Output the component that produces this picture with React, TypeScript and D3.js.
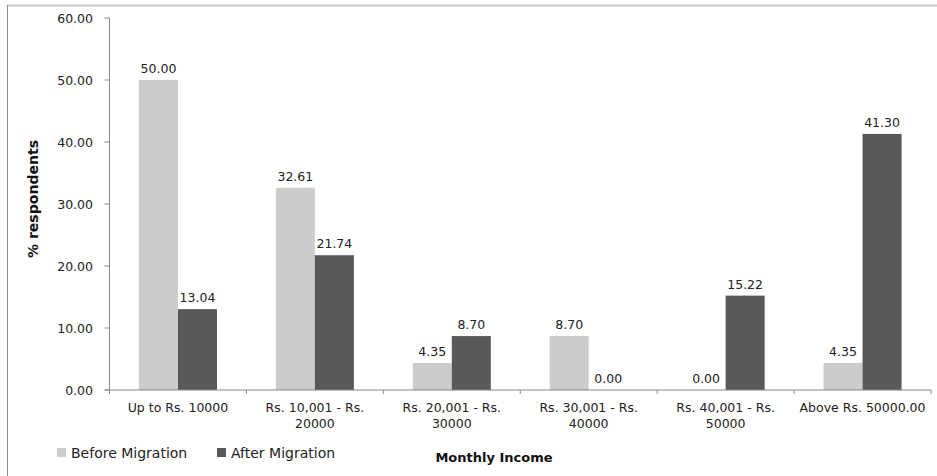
import React from "react";
import * as d3 from "d3";

const categories: string[][] = [
  ["Up to Rs. 10000"],
  ["Rs. 10,001 - Rs.", "20000"],
  ["Rs. 20,001 - Rs.", "30000"],
  ["Rs. 30,001 - Rs.", "40000"],
  ["Rs. 40,001 - Rs.", "50000"],
  ["Above Rs. 50000.00"],
];
const seriesNames = ["Before Migration", "After Migration"];
const beforeMigration = [50.0, 32.61, 4.35, 8.7, 0.0, 4.35];
const afterMigration = [13.04, 21.74, 8.7, 0.0, 15.22, 41.3];
const yTicks = [0, 10, 20, 30, 40, 50, 60];
const colors = ["#cccccc", "#595959"];

export default function App() {
  const W = 937;
  const H = 476;
  const x0 = 109.5;
  const x1 = 931;
  const yTop = 18;
  const yBot = 390;
  const font = "Verdana, 'DejaVu Sans', sans-serif";

  const x = d3
    .scaleBand<number>()
    .domain(d3.range(categories.length))
    .range([x0, x1])
    .paddingInner(0)
    .paddingOuter(0);
  const y = d3.scaleLinear().domain([0, 60]).range([yBot, yTop]);
  const bw = x.bandwidth() * 0.285;
  const series = [beforeMigration, afterMigration];

  return (
    <svg
      width={W}
      height={H}
      style={{ position: "absolute", left: 0, top: 0, background: "#fff" }}
    >
      <rect x={0} y={0} width={W} height={H} fill="#fff" />
      {/* outer frame */}
      <line x1={7} y1={5.5} x2={W} y2={5.5} stroke="#c8c8c8" strokeWidth={2} />
      <line x1={7.5} y1={5} x2={7.5} y2={H} stroke="#8c8c8c" strokeWidth={1} />

      {/* bars */}
      {series.map((vals, s) =>
        vals.map((v, i) => {
          const cx = (x(i) as number) + x.bandwidth() / 2;
          const bx = cx - bw + s * bw;
          return (
            <g key={`${s}-${i}`}>
              <rect
                x={bx}
                y={y(v)}
                width={bw}
                height={yBot - y(v)}
                fill={colors[s]}
              />
              <text
                x={bx + bw / 2}
                y={y(v) - 7}
                textAnchor="middle"
                fontFamily={font}
                fontSize={12.5}
                fill="#222"
              >
                {v.toFixed(2)}
              </text>
            </g>
          );
        })
      )}

      {/* y axis */}
      <line x1={x0} y1={yTop} x2={x0} y2={yBot} stroke="#868686" />
      {yTicks.map((t) => (
        <g key={t}>
          <line x1={x0 - 5} y1={y(t)} x2={x0} y2={y(t)} stroke="#868686" />
          <text
            x={93}
            y={y(t) + 4.5}
            textAnchor="end"
            fontFamily={font}
            fontSize={12.5}
            fill="#222"
          >
            {t.toFixed(2)}
          </text>
        </g>
      ))}

      {/* x axis */}
      <line x1={x0 - 5} y1={yBot} x2={x1} y2={yBot} stroke="#868686" />
      {d3.range(categories.length + 1).map((i) => {
        const tx = i < categories.length ? (x(i) as number) : x1;
        return (
          <line key={i} x1={tx} y1={yBot} x2={tx} y2={yBot + 4} stroke="#868686" />
        );
      })}
      {categories.map((lines, i) => (
        <text
          key={i}
          x={(x(i) as number) + x.bandwidth() / 2}
          y={412}
          textAnchor="middle"
          fontFamily={font}
          fontSize={12.5}
          fill="#222"
        >
          {lines.map((l, j) => (
            <tspan key={j} x={(x(i) as number) + x.bandwidth() / 2} dy={j === 0 ? 0 : 15.5}>
              {l}
            </tspan>
          ))}
        </text>
      ))}

      {/* axis titles */}
      <text
        transform="translate(38,199) rotate(-90)"
        textAnchor="middle"
        fontFamily="'DejaVu Sans Condensed', 'Liberation Sans Narrow', 'DejaVu Sans', sans-serif"
        fontWeight="bold"
        fontSize={14}
        fill="#111"
        textLength={118}
        lengthAdjust="spacingAndGlyphs"
      >
        % respondents
      </text>
      <text
        x={494}
        y={462}
        textAnchor="middle"
        fontFamily={font}
        fontWeight="bold"
        fontSize={13}
        fill="#111"
      >
        Monthly Income
      </text>

      {/* legend */}
      {seriesNames.map((n, s) => {
        const lx = s === 0 ? 57 : 217;
        return (
          <g key={n}>
            <rect x={lx} y={448} width={9} height={9} fill={colors[s]} />
            <text x={lx + 14} y={457.5} fontFamily={font} fontSize={14} fill="#222">
              {n}
            </text>
          </g>
        );
      })}
    </svg>
  );
}
